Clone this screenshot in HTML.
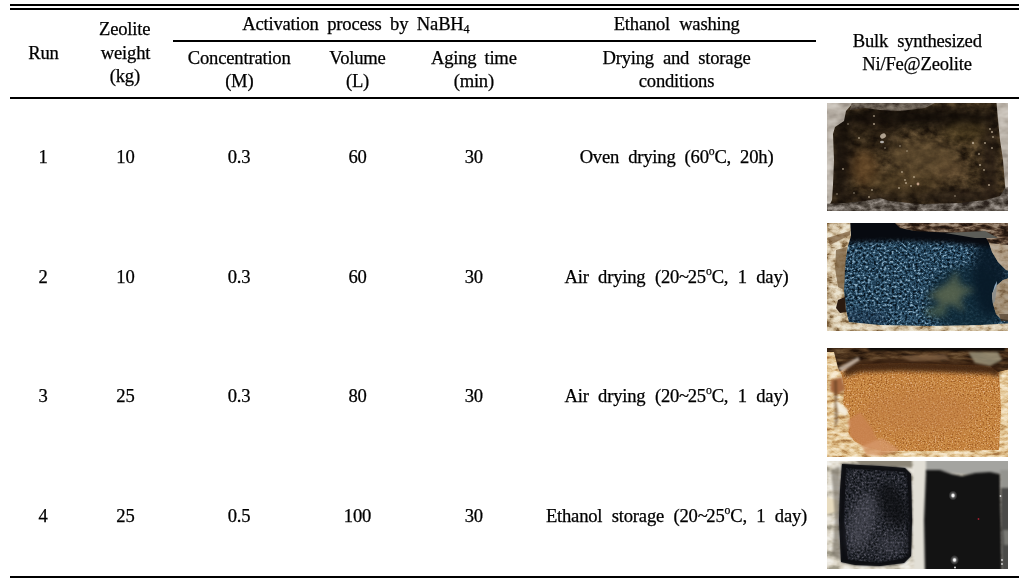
<!DOCTYPE html>
<html lang="en"><head><meta charset="utf-8"><title>Table</title>
<style>
html,body{margin:0;padding:0;background:#fff;}
body{width:1028px;height:583px;position:relative;overflow:hidden;font-family:"Liberation Serif","Noto Serif CJK SC",serif;font-size:18.6px;color:#000;}
.t{position:absolute;white-space:nowrap;line-height:28px;height:28px;transform:translateX(-50%);letter-spacing:-0.2px;word-spacing:3.6px;-webkit-text-stroke:0.25px #000;}
.t sub,.t sup{font-size:63%;line-height:0;}
.t sub{vertical-align:-3.1px;font-size:65%;}
.t sup{vertical-align:7.8px;}
.tl{letter-spacing:-1.4px;}
.l{position:absolute;background:#000;}
svg{position:absolute;left:0;top:0;}
</style></head><body>
<div class="l" style="left:10px;top:4px;width:1009px;height:2px"></div><div class="l" style="left:10px;top:8px;width:1009px;height:2px"></div><div class="l" style="left:173px;top:40px;width:643px;height:2px"></div><div class="l" style="left:10px;top:97px;width:1009px;height:2px"></div><div class="l" style="left:10px;top:576px;width:1009px;height:2px"></div>
<span class="t" style="left:43.4px;top:39.0px;">Run</span><span class="t" style="left:124.7px;top:15.0px;">Zeolite</span><span class="t" style="left:125.5px;top:39.0px;">weight</span><span class="t" style="left:124.8px;top:62.0px;">(kg)</span><span class="t" style="left:355.8px;top:10.2px;word-spacing:4.1px;">Activation process by NaBH<sub>4</sub></span><span class="t" style="left:239.2px;top:43.8px;">Concentration</span><span class="t" style="left:239.3px;top:67.0px;">(M)</span><span class="t" style="left:357.5px;top:43.8px;">Volume</span><span class="t" style="left:357.5px;top:67.0px;">(L)</span><span class="t" style="left:473.8px;top:43.8px;">Aging time</span><span class="t" style="left:473.8px;top:67.0px;">(min)</span><span class="t" style="left:676.7px;top:10.2px;word-spacing:4.6px;">Ethanol washing</span><span class="t" style="left:676.5px;top:43.8px;word-spacing:4.6px;">Drying and storage</span><span class="t" style="left:676.5px;top:67.0px;">conditions</span><span class="t" style="left:917.3px;top:27.0px;word-spacing:4.6px;">Bulk synthesized</span><span class="t" style="left:917px;top:50.0px;">Ni/Fe@Zeolite</span><span class="t" style="left:43px;top:143.0px;">1</span><span class="t" style="left:125.4px;top:143.0px;">10</span><span class="t" style="left:239px;top:143.0px;">0.3</span><span class="t" style="left:357.5px;top:143.0px;">60</span><span class="t" style="left:473.8px;top:143.0px;">30</span><span class="t" style="left:676.5px;top:143.0px;word-spacing:4.6px;">Oven drying (60<sup>o</sup>C, 20h)</span><span class="t" style="left:43px;top:263.0px;">2</span><span class="t" style="left:125.4px;top:263.0px;">10</span><span class="t" style="left:239px;top:263.0px;">0.3</span><span class="t" style="left:357.5px;top:263.0px;">60</span><span class="t" style="left:473.8px;top:263.0px;">30</span><span class="t" style="left:676.5px;top:263.0px;word-spacing:5px;">Air drying (20<span class=tl>~</span>25<sup>o</sup>C, 1 day)</span><span class="t" style="left:43px;top:382.0px;">3</span><span class="t" style="left:125.4px;top:382.0px;">25</span><span class="t" style="left:239px;top:382.0px;">0.3</span><span class="t" style="left:357.5px;top:382.0px;">80</span><span class="t" style="left:473.8px;top:382.0px;">30</span><span class="t" style="left:676.5px;top:382.0px;word-spacing:5px;">Air drying (20<span class=tl>~</span>25<sup>o</sup>C, 1 day)</span><span class="t" style="left:43px;top:502.0px;">4</span><span class="t" style="left:125.4px;top:502.0px;">25</span><span class="t" style="left:239px;top:502.0px;">0.5</span><span class="t" style="left:357.5px;top:502.0px;">100</span><span class="t" style="left:473.8px;top:502.0px;">30</span><span class="t" style="left:676.5px;top:502.0px;word-spacing:5px;">Ethanol storage (20<span class=tl>~</span>25<sup>o</sup>C, 1 day)</span>
<svg width="1028" height="583" viewBox="0 0 1028 583" aria-hidden="true">
<defs>
<filter id="b05" x="-50%" y="-50%" width="200%" height="200%" color-interpolation-filters="sRGB"><feGaussianBlur stdDeviation="0.5"/></filter>
<filter id="b1" x="-50%" y="-50%" width="200%" height="200%" color-interpolation-filters="sRGB"><feGaussianBlur stdDeviation="1"/></filter>
<filter id="b2" x="-50%" y="-50%" width="200%" height="200%" color-interpolation-filters="sRGB"><feGaussianBlur stdDeviation="2"/></filter>
<filter id="b3" x="-50%" y="-50%" width="200%" height="200%" color-interpolation-filters="sRGB"><feGaussianBlur stdDeviation="3.2"/></filter>
<filter id="b5" x="-50%" y="-50%" width="200%" height="200%" color-interpolation-filters="sRGB"><feGaussianBlur stdDeviation="5"/></filter>
<filter id="b8" x="-50%" y="-50%" width="200%" height="200%" color-interpolation-filters="sRGB"><feGaussianBlur stdDeviation="8"/></filter>
<radialGradient id="glow"><stop offset="0" stop-color="#fff"/><stop offset="0.22" stop-color="#fff" stop-opacity=".95"/><stop offset="0.5" stop-color="#fff" stop-opacity=".3"/><stop offset="1" stop-color="#fff" stop-opacity="0"/></radialGradient>
<clipPath id="c1"><rect x="827" y="103" width="181" height="108"/></clipPath>
<filter id="t1" x="0" y="0" width="100%" height="100%" color-interpolation-filters="sRGB">
<feTurbulence type="fractalNoise" baseFrequency="0.10 0.14" numOctaves="4" seed="3" result="t"/>
<feColorMatrix in="t" type="matrix" values="1.7 0 0 0 -0.350  1.7 0 0 0 -0.350  1.7 0 0 0 -0.350  0 0 0 0 1"/>
<feComponentTransfer><feFuncR type="table" tableValues="0.102 0.180 0.251 0.329 0.416"/><feFuncG type="table" tableValues="0.071 0.133 0.196 0.259 0.337"/><feFuncB type="table" tableValues="0.039 0.078 0.118 0.165 0.220"/></feComponentTransfer>
<feComposite in2="SourceGraphic" operator="in"/>
</filter>
<filter id="p1" x="0" y="0" width="100%" height="100%" color-interpolation-filters="sRGB">
<feTurbulence type="fractalNoise" baseFrequency="0.06 0.1" numOctaves="3" seed="7" result="t"/>
<feColorMatrix in="t" type="matrix" values="1.6 0 0 0 -0.300  1.6 0 0 0 -0.300  1.6 0 0 0 -0.300  0 0 0 0 1"/>
<feComponentTransfer><feFuncR type="table" tableValues="0.604 0.706 0.776 0.831"/><feFuncG type="table" tableValues="0.569 0.675 0.749 0.808"/><feFuncB type="table" tableValues="0.533 0.635 0.714 0.776"/></feComponentTransfer>
<feComposite in2="SourceGraphic" operator="in"/>
</filter>
<filter id="p1d" x="0" y="0" width="100%" height="100%" color-interpolation-filters="sRGB">
<feTurbulence type="fractalNoise" baseFrequency="0.10 0.18" numOctaves="4" seed="9" result="t"/>
<feColorMatrix in="t" type="matrix" values="2.0 0 0 0 -0.500  2.0 0 0 0 -0.500  2.0 0 0 0 -0.500  0 0 0 0 1"/>
<feComponentTransfer><feFuncR type="table" tableValues="0.165 0.306 0.459 0.627"/><feFuncG type="table" tableValues="0.133 0.275 0.427 0.596"/><feFuncB type="table" tableValues="0.110 0.243 0.396 0.565"/></feComponentTransfer>
<feComposite in2="SourceGraphic" operator="in"/>
</filter>
<filter id="p1t" x="0" y="0" width="100%" height="100%" color-interpolation-filters="sRGB">
<feTurbulence type="fractalNoise" baseFrequency="0.10 0.18" numOctaves="4" seed="13" result="t"/>
<feColorMatrix in="t" type="matrix" values="1.8 0 0 0 -0.400  1.8 0 0 0 -0.400  1.8 0 0 0 -0.400  0 0 0 0 1"/>
<feComponentTransfer><feFuncR type="table" tableValues="0.227 0.353 0.455 0.541"/><feFuncG type="table" tableValues="0.188 0.314 0.416 0.502"/><feFuncB type="table" tableValues="0.157 0.275 0.369 0.455"/></feComponentTransfer>
<feComposite in2="SourceGraphic" operator="in"/>
</filter>
<clipPath id="c1t"><path d="M853 97 H935 V103 L925 108 L900 111 L880 110 L865 108 L850 110 Z"/></clipPath>
<clipPath id="c1a"><path d="M820 97 H853 V103 L846 111 L844 121 L835 127 L833 134 L834 160 L833 185 L832 200 L830 204 H820 Z M996 97 H1015 V200 H1007 L1005 185 L1003 160 L1000 140 L998 120 Z"/></clipPath>
<clipPath id="c1b"><path d="M820 218 V204 L845 203 L865 201 L880 198 L890 201 L920 204 L960 203 L985 200 L1000 196 L1005 188 L1015 184 V218 Z"/></clipPath>
<clipPath id="c2"><rect x="827" y="223" width="181" height="108"/></clipPath>
<filter id="t2" x="0" y="0" width="100%" height="100%" color-interpolation-filters="sRGB">
<feTurbulence type="fractalNoise" baseFrequency="0.38 0.44" numOctaves="3" seed="5" result="t"/>
<feColorMatrix in="t" type="matrix" values="2.0 0 0 0 -0.500  2.0 0 0 0 -0.500  2.0 0 0 0 -0.500  0 0 0 0 1"/>
<feComponentTransfer><feFuncR type="table" tableValues="0.031 0.071 0.125 0.188 0.298 0.533"/><feFuncG type="table" tableValues="0.078 0.157 0.243 0.325 0.447 0.659"/><feFuncB type="table" tableValues="0.118 0.220 0.329 0.424 0.549 0.745"/></feComponentTransfer>
<feComposite in2="SourceGraphic" operator="in"/>
</filter>
<filter id="p2" x="0" y="0" width="100%" height="100%" color-interpolation-filters="sRGB">
<feTurbulence type="fractalNoise" baseFrequency="0.12 0.2" numOctaves="4" seed="17" result="t"/>
<feColorMatrix in="t" type="matrix" values="2.0 0 0 0 -0.450  2.0 0 0 0 -0.450  2.0 0 0 0 -0.450  0 0 0 0 1"/>
<feComponentTransfer><feFuncR type="table" tableValues="0.478 0.706 0.816 0.878 0.925"/><feFuncG type="table" tableValues="0.361 0.612 0.745 0.824 0.894"/><feFuncB type="table" tableValues="0.220 0.471 0.627 0.722 0.816"/></feComponentTransfer>
<feComposite in2="SourceGraphic" operator="in"/>
</filter>
<filter id="p2b" x="0" y="0" width="100%" height="100%" color-interpolation-filters="sRGB">
<feTurbulence type="fractalNoise" baseFrequency="0.10 0.3" numOctaves="4" seed="23" result="t"/>
<feColorMatrix in="t" type="matrix" values="2.2 0 0 0 -0.600  2.2 0 0 0 -0.600  2.2 0 0 0 -0.600  0 0 0 0 1"/>
<feComponentTransfer><feFuncR type="table" tableValues="0.133 0.235 0.337 0.478 0.627"/><feFuncG type="table" tableValues="0.086 0.165 0.251 0.392 0.549"/><feFuncB type="table" tableValues="0.055 0.118 0.188 0.314 0.471"/></feComponentTransfer>
<feComposite in2="SourceGraphic" operator="in"/>
</filter>
<clipPath id="c2a"><path d="M820 217 H850 L851 236 L848 246 L845 262 L844 290 L846 310 L849 322 L880 325 L930 326 L980 325 L1015 323 V338 H820 Z M1015 276 L1003 280 L996 286 L992 294 L993 304 L996 314 L1001 319 L1015 321 Z M989 243 L1000 244 L1015 246 V272 L1006 270 L998 262 L992 252 Z"/></clipPath>
<clipPath id="c2b"><path d="M889 217 H1015 V246 L1000 244 L989 243 L985 236 L960 233 L935 232 L915 231 L900 228 Z"/></clipPath>
<clipPath id="c3"><rect x="827" y="348" width="181" height="109"/></clipPath>
<filter id="t3" x="0" y="0" width="100%" height="100%" color-interpolation-filters="sRGB">
<feTurbulence type="fractalNoise" baseFrequency="0.65 0.7" numOctaves="3" seed="8" result="t"/>
<feColorMatrix in="t" type="matrix" values="1.9 0 0 0 -0.420  1.9 0 0 0 -0.420  1.9 0 0 0 -0.420  0 0 0 0 1"/>
<feComponentTransfer><feFuncR type="table" tableValues="0.604 0.722 0.776 0.816 0.878"/><feFuncG type="table" tableValues="0.353 0.455 0.518 0.580 0.675"/><feFuncB type="table" tableValues="0.133 0.204 0.251 0.306 0.486"/></feComponentTransfer>
<feComposite in2="SourceGraphic" operator="in"/>
</filter>
<filter id="p3" x="0" y="0" width="100%" height="100%" color-interpolation-filters="sRGB">
<feTurbulence type="fractalNoise" baseFrequency="0.10 0.25" numOctaves="4" seed="31" result="t"/>
<feColorMatrix in="t" type="matrix" values="1.8 0 0 0 -0.400  1.8 0 0 0 -0.400  1.8 0 0 0 -0.400  0 0 0 0 1"/>
<feComponentTransfer><feFuncR type="table" tableValues="0.659 0.816 0.894 0.941 0.973"/><feFuncG type="table" tableValues="0.471 0.659 0.784 0.863 0.925"/><feFuncB type="table" tableValues="0.267 0.439 0.596 0.722 0.831"/></feComponentTransfer>
<feComposite in2="SourceGraphic" operator="in"/>
</filter>
<filter id="p3b" x="0" y="0" width="100%" height="100%" color-interpolation-filters="sRGB">
<feTurbulence type="fractalNoise" baseFrequency="0.06 0.25" numOctaves="4" seed="37" result="t"/>
<feColorMatrix in="t" type="matrix" values="1.8 0 0 0 -0.400  1.8 0 0 0 -0.400  1.8 0 0 0 -0.400  0 0 0 0 1"/>
<feComponentTransfer><feFuncR type="table" tableValues="0.133 0.243 0.353 0.455 0.565"/><feFuncG type="table" tableValues="0.078 0.165 0.243 0.329 0.439"/><feFuncB type="table" tableValues="0.039 0.094 0.141 0.196 0.290"/></feComponentTransfer>
<feComposite in2="SourceGraphic" operator="in"/>
</filter>
<clipPath id="c3a"><path d="M820 352 H834 L838 368 L842 376 L844 392 L843 404 L849 414 L851 424 L848 432 L854 441 L866 447 L882 451 L930 451 L999 450 L1001 410 L1000 390 L999 372 L1015 368 V465 H820 Z"/></clipPath>
<clipPath id="c3b"><path d="M820 340 H1015 V368 L998 372 L990 366 L940 364 L900 363 L860 364 L845 368 L836 374 L833 352 L820 352 Z"/></clipPath>
<clipPath id="c4"><rect x="827" y="461" width="181" height="108"/></clipPath>
<filter id="t4" x="0" y="0" width="100%" height="100%" color-interpolation-filters="sRGB">
<feTurbulence type="fractalNoise" baseFrequency="0.45 0.5" numOctaves="3" seed="41" result="t"/>
<feColorMatrix in="t" type="matrix" values="1.8 0 0 0 -0.400  1.8 0 0 0 -0.400  1.8 0 0 0 -0.400  0 0 0 0 1"/>
<feComponentTransfer><feFuncR type="table" tableValues="0.039 0.082 0.125 0.173 0.235 0.329"/><feFuncG type="table" tableValues="0.047 0.094 0.137 0.180 0.239 0.329"/><feFuncB type="table" tableValues="0.059 0.110 0.165 0.212 0.275 0.369"/></feComponentTransfer>
<feComposite in2="SourceGraphic" operator="in"/>
</filter>
<filter id="p4" x="0" y="0" width="100%" height="100%" color-interpolation-filters="sRGB">
<feTurbulence type="fractalNoise" baseFrequency="0.07 0.12" numOctaves="3" seed="43" result="t"/>
<feColorMatrix in="t" type="matrix" values="2.0 0 0 0 -0.500  2.0 0 0 0 -0.500  2.0 0 0 0 -0.500  0 0 0 0 1"/>
<feComponentTransfer><feFuncR type="table" tableValues="0.627 0.769 0.863 0.910 0.949"/><feFuncG type="table" tableValues="0.604 0.745 0.839 0.894 0.941"/><feFuncB type="table" tableValues="0.541 0.682 0.784 0.855 0.918"/></feComponentTransfer>
<feComposite in2="SourceGraphic" operator="in"/>
</filter>
<clipPath id="c4s"><path d="M842 464 L860 465 L880 466 L905 468 L911 474 L912 520 L911 556 L904 563 L880 566 L855 565 L841 562 L839 520 L840 490 Z"/></clipPath>
</defs>
<g clip-path="url(#c1)">
<rect x="822" y="98" width="191" height="118" filter="url(#t1)" opacity="1"/>
<g filter="url(#b5)">
<ellipse cx="915" cy="117" rx="85" ry="10" fill="#0e0906" opacity=".85"/>
<ellipse cx="842" cy="160" rx="10" ry="45" fill="#0e0906" opacity=".6"/>
<ellipse cx="915" cy="198" rx="80" ry="5" fill="#0e0906" opacity=".6"/>
<ellipse cx="990" cy="150" rx="8" ry="45" fill="#120c08" opacity=".5"/>
<ellipse cx="838" cy="165" rx="7" ry="40" fill="#1a120c" opacity=".7"/>
<ellipse cx="870" cy="135" rx="30" ry="18" fill="#1a120a" opacity=".4"/>
<ellipse cx="864" cy="168" rx="13" ry="18" fill="#6a4a26" opacity=".6"/>
<ellipse cx="905" cy="182" rx="38" ry="12" fill="#5a4528" opacity=".5"/>
<ellipse cx="950" cy="170" rx="18" ry="10" fill="#74583a" opacity=".45"/>
<ellipse cx="922" cy="156" rx="34" ry="16" fill="#6a5434" opacity=".55"/>
<ellipse cx="965" cy="132" rx="22" ry="10" fill="#50401f" opacity=".4"/>
<ellipse cx="965" cy="196" rx="40" ry="7" fill="#1e1610" opacity=".6"/>
<ellipse cx="860" cy="201" rx="25" ry="5" fill="#17100b" opacity=".7"/>
<ellipse cx="990" cy="165" rx="7" ry="40" fill="#2a1e16" opacity=".6"/>
</g>
<g filter="url(#b05)">
<g clip-path="url(#c1a)"><rect x="817" y="93" width="201" height="128" filter="url(#p1)" opacity="1"/></g>
<g clip-path="url(#c1b)"><rect x="817" y="93" width="201" height="128" filter="url(#p1d)" opacity="1"/></g>
<g clip-path="url(#c1t)"><rect x="817" y="93" width="201" height="128" filter="url(#p1t)" opacity="1"/></g>
</g>
<g fill="#d0c0a8" opacity=".7">
<ellipse cx="883" cy="136" rx="3" ry="2.4" transform="rotate(-30 883 136)" fill="#e6d8c4"/>
<ellipse cx="882" cy="142" rx="2" ry="1.2" fill="#e8e8e8"/>
<circle cx="874" cy="124" r="1.1"/>
<circle cx="859" cy="138" r="0.9"/>
<circle cx="874" cy="116" r="0.9"/>
<circle cx="848" cy="124" r="0.8"/>
<circle cx="885" cy="148" r="0.8"/>
<circle cx="900" cy="146" r="0.8"/>
<circle cx="907" cy="151" r="0.8"/>
<circle cx="973" cy="143" r="1.2"/>
<circle cx="992" cy="132" r="1.1"/>
<circle cx="990" cy="129" r="0.9"/>
<circle cx="985" cy="143" r="1"/>
<circle cx="993" cy="137" r="0.9"/>
<circle cx="979" cy="154" r="0.9"/>
<circle cx="992" cy="148" r="0.9"/>
<circle cx="989" cy="185" r="1.1"/>
<circle cx="906" cy="183" r="1"/>
<circle cx="911" cy="186" r="0.9"/>
<circle cx="902" cy="172" r="0.9"/>
<circle cx="905" cy="180" r="0.9"/>
<circle cx="914" cy="177" r="0.9"/>
<circle cx="899" cy="188" r="0.9"/>
<circle cx="872" cy="190" r="0.9"/>
<circle cx="854" cy="193" r="0.8"/>
<circle cx="837" cy="194" r="0.8"/>
<circle cx="843" cy="169" r="0.9"/>
<circle cx="869" cy="197" r="0.9"/>
<circle cx="980" cy="165" r="1.1"/>
<circle cx="984" cy="170" r="0.9"/>
<circle cx="955" cy="196" r="0.8"/>
<circle cx="918" cy="184" r="1.4" fill="#f0c8b0"/>
</g></g>
<g clip-path="url(#c2)">
<rect x="822" y="218" width="191" height="118" filter="url(#t2)" opacity="1"/>
<g filter="url(#b5)">
<ellipse cx="968" cy="300" rx="40" ry="34" fill="#0e2836" opacity=".85"/>
<ellipse cx="990" cy="275" rx="18" ry="42" fill="#091a28" opacity=".92"/>
<ellipse cx="860" cy="318" rx="30" ry="8" fill="#1a3048" opacity=".5"/>
</g>
<g filter="url(#b3)" opacity=".9">
<ellipse cx="948" cy="294" rx="14" ry="9" fill="#667052" opacity=".5"/>
<path d="M925 296 L940 290 L950 280 L956 270 L960 284 L975 290 L960 298 L965 312 L950 304 L935 314 L940 300 Z" fill="#667052" opacity=".7"/>
<ellipse cx="936" cy="312" rx="12" ry="5" fill="#50644e" opacity=".7"/>
</g>
<g filter="url(#b2)">
<path d="M845 213 H1015 V247 L990 247 L950 243 L900 241 L860 242 L848 244 Z" fill="#070a10"/>
</g>
<g filter="url(#b05)">
<g clip-path="url(#c2a)"><rect x="817" y="213" width="201" height="128" filter="url(#p2)" opacity="1"/></g>
<g clip-path="url(#c2b)"><rect x="817" y="213" width="201" height="128" filter="url(#p2b)" opacity="1"/></g>
<path d="M945 233 L985 231 L998 238 L975 238 Z" fill="#5c5d58"/>
<path d="M989 243 L1000 244 L1015 246 V272 L1006 270 L998 262 L992 252 Z" fill="#8a7664" opacity=".5"/>
<path d="M992 295 L994.5 286 L997 281 L996.5 290 L995 301 L993 304 Z" fill="#a0bcd4" opacity=".9"/>
<path d="M999 314 H1015 V322 L1001 321 Z" fill="#3a2a1c" opacity=".8"/>
<path d="M1015 276 L1003 280 L996 286 L992 294 L993 304 L996 314 L1001 319 L1015 321 Z" fill="#7a6650" opacity=".55"/>
<path d="M836 250 L847 247 L845 272 L844 290 L838 287 L835 268 Z" fill="#6d5232" opacity=".7"/>
<path d="M838 300 L845 297 L846 312 L840 313 L836 308 Z" fill="#2a1a10"/>
<path d="M827 238 L850 231 L850 235 L830 245 Z" fill="#7a5c3c" opacity=".7"/>
</g>
</g>
<g clip-path="url(#c3)">
<rect x="822" y="343" width="191" height="119" filter="url(#t3)" opacity="1"/>
<g filter="url(#b8)">
<ellipse cx="920" cy="412" rx="60" ry="22" fill="#c07e46" opacity=".5"/>
</g>
<g filter="url(#b05)">
<g clip-path="url(#c3b)"><rect x="817" y="338" width="201" height="129" filter="url(#p3b)" opacity="1"/></g>
<path d="M820 340 H1015 V368 L998 372 L990 366 L940 364 L900 363 L860 364 L845 368 L836 374 L833 352 L820 352 Z" fill="#1a0e06" opacity=".3"/>
<g clip-path="url(#c3a)"><rect x="817" y="338" width="201" height="129" filter="url(#p3)" opacity="1"/></g>
</g>
<g filter="url(#b2)">
<path d="M845 363 L860 361 L900 360 L940 361 L990 363 L1000 367 L998 377 L990 374 L940 372 L900 371 L860 372 L844 377 Z" fill="#3a2010" opacity=".9"/>
</g>
<g filter="url(#b1)">
<path d="M860 340 H1005 V351 L960 350.5 L900 350.5 L870 351 Z" fill="#0c0806"/>
<path d="M900 356 L945 354 L950 360 L910 361 Z" fill="#8a6a4a" opacity=".7"/>
<path d="M838 368 L858 357 L860 360 L842 372 Z" fill="#d8c8b8" opacity=".8"/>
<path d="M968 352 L998 352 L1002 360 L990 366 L975 363 Z" fill="#a09880" opacity=".8"/>
<path d="M848 420 L860 412 L872 428 L882 450 L862 446 L850 436 Z" fill="#c98350" opacity=".9"/>
<path d="M862 446 L882 438 L900 450 L880 456 L866 455 Z" fill="#d6986a" opacity=".8"/>
<path d="M831 380 L842 377 L845 390 L836 395 L830 390 Z" fill="#a86a40"/>
<path d="M834 380 L837 380 L838 420 L835 430 Z" fill="#5a3a20" opacity=".6"/>
<path d="M836 400 L848 410 L846 416 L838 412 Z" fill="#f4ecdc"/>
</g>
</g>
<g clip-path="url(#c4)">
<rect x="822" y="456" width="191" height="118" filter="url(#p4)" opacity="1"/>
<g filter="url(#b1)">
<path d="M850 455 H912 V468 L900 467 L880 466 L860 465 Z" fill="#8c8678"/>
<path d="M913 455 H927 V575 H914 L913 540 L913 500 Z" fill="#e2dfd6"/>
<path d="M926 455 H1015 V478 L1000 474 L980 476 L960 474 L940 472 L926 472 Z" fill="#a4a4a0"/>
<path d="M1000 470 H1015 V490 H1001 Z" fill="#94948f"/>
<path d="M1001 488 H1015 V575 H1002 L1001 520 Z" fill="#4a4a48"/>
<path d="M1003 530 H1015 V545 H1004 Z" fill="#777772"/>
<path d="M820 495 L838 500 L838 512 L820 516 Z" fill="#e8dcc0"/>
<path d="M831 470 L840 466 L839 520 L840 560 L832 556 L835 520 L833 490 Z" fill="#6a6458" opacity=".6"/>
</g>
<g filter="url(#b1)">
<path d="M842 464 L860 465 L880 466 L905 468 L911 474 L912 520 L911 556 L904 563 L880 566 L855 565 L841 562 L839 520 L840 490 Z" fill="#101116"/>
<path d="M926 470 L940 470 L952 474 L962 476 L975 473 L990 472 L1000 474 L1001 520 L1002 575 H925 L924 520 Z" fill="#131313"/>
</g>
<g clip-path="url(#c4s)">
<g filter="url(#b05)"><path d="M846 468 L907 472 L910 520 L909 557 L880 563 L848 560 L844 520 Z" filter="url(#t4)"/></g>
<path d="M842 464 L860 465 L880 466 L905 468 L911 474 L912 520 L911 556 L904 563 L880 566 L855 565 L841 562 L839 520 L840 490 Z" fill="none" stroke="#0c0d11" stroke-width="7" filter="url(#b2)"/>
<g filter="url(#b5)">
<ellipse cx="893" cy="505" rx="13" ry="24" fill="#0c0d10" opacity=".7" transform="rotate(-25 893 505)"/>
<ellipse cx="862" cy="522" rx="13" ry="30" fill="#6a6a76" opacity=".38" transform="rotate(15 862 522)"/>
<ellipse cx="890" cy="545" rx="14" ry="10" fill="#5a5a66" opacity=".3"/>
</g></g>
<ellipse cx="953" cy="495.5" rx="4.5" ry="5" fill="url(#glow)"/>
<ellipse cx="954.5" cy="560" rx="4.5" ry="5" fill="url(#glow)"/>
<circle cx="955" cy="567.5" r="1" fill="#ddd"/>
<circle cx="1000.5" cy="496" r=".9" fill="#ddd"/>
<circle cx="1002" cy="560" r=".9" fill="#ddd"/>
<circle cx="1002" cy="564" r=".9" fill="#ddd"/>
<circle cx="978.5" cy="519" r=".9" fill="#a02030"/>
</g>
</svg>

</body></html>
